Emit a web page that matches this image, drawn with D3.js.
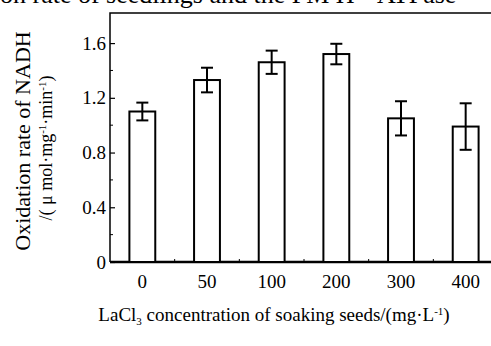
<!DOCTYPE html>
<html>
<head>
<meta charset="utf-8">
<script src="https://cdn.jsdelivr.net/npm/d3@7"></script>
<style>
  body { margin: 0; background: #fff; }
  text { font-family: "Liberation Serif", "DejaVu Serif", serif; fill: #000; }
</style>
</head>
<body>
<div id="chart"></div>
<script>
// data
const concentrations = ["0", "50", "100", "200", "300", "400"];
const rates = [1.10, 1.33, 1.46, 1.52, 1.05, 0.99];
const errors = [0.065, 0.09, 0.085, 0.075, 0.125, 0.17];
const yTicks = [0, 0.4, 0.8, 1.2, 1.6];
const yMinorTicks = [0.2, 0.6, 1.0, 1.4];

const W = 491, H = 346;
const plotLeft = 110, plotRight = 498, plotTop = 13, plotBottom = 262;

const svg = d3.select("#chart")
  .append("svg")
    .attr("width", W)
    .attr("height", H);

const x = d3.scaleBand()
  .domain(concentrations)
  .range([plotLeft, plotRight])
  .paddingInner(0.6)
  .paddingOuter(0.3);

const y = d3.scaleLinear()
  .domain([0, 1.82])
  .range([plotBottom, plotTop]);

// caption cut off at the top of the picture
svg.append("text")
  .attr("x", 0)
  .attr("y", 3)
  .style("font-size", "26px")
  .text("on rate of seedlings and the PM H\u207A-ATPase");

// frame
svg.append("path")
  .attr("d", `M${plotLeft},${plotBottom}V${plotTop}H${plotRight + 5}`)
  .attr("fill", "none")
  .attr("stroke", "#000")
  .attr("stroke-width", 1.5);

// x axis
const xAxis = svg.append("g")
  .attr("transform", `translate(0, ${plotBottom})`)
  .call(d3.axisBottom(x).tickSize(0).tickPadding(13));
xAxis.select(".domain").attr("stroke-width", 2.4).attr("d", `M${plotLeft},0H${plotRight + 5}`);
xAxis.selectAll("text").style("font-size", "19px").attr("font-family", null);

// small ticks between the bars
const step = x.step();
svg.selectAll(".xminor")
  .data(concentrations.slice(1))
  .enter()
  .append("line")
    .attr("x1", d => x(d) + x.bandwidth() / 2 - step / 2)
    .attr("x2", d => x(d) + x.bandwidth() / 2 - step / 2)
    .attr("y1", plotBottom)
    .attr("y2", plotBottom - 3)
    .attr("stroke", "#000")
    .attr("stroke-width", 1);

// y axis
const yAxis = svg.append("g")
  .attr("transform", `translate(${plotLeft}, 0)`)
  .call(d3.axisLeft(y).tickValues(yTicks).tickSize(-5).tickPadding(4)
    .tickFormat(d => d === 0 ? "0" : d3.format(".1f")(d)));
yAxis.select(".domain").remove();
yAxis.selectAll("text").style("font-size", "19px").attr("font-family", null);
yAxis.selectAll("line").attr("stroke-width", 1.2);

svg.selectAll(".yminor")
  .data(yMinorTicks)
  .enter()
  .append("line")
    .attr("x1", plotLeft)
    .attr("x2", plotLeft + 3)
    .attr("y1", d => y(d))
    .attr("y2", d => y(d))
    .attr("stroke", "#000")
    .attr("stroke-width", 1);

// bars
svg.selectAll(".bar")
  .data(rates)
  .enter()
  .append("rect")
    .attr("x", (d, i) => x(concentrations[i]))
    .attr("y", d => y(d))
    .attr("width", x.bandwidth())
    .attr("height", d => plotBottom - y(d))
    .attr("fill", "#fff")
    .attr("stroke", "#000")
    .attr("stroke-width", 2);

// error bars
const cap = 6;
const eb = svg.selectAll(".err")
  .data(rates)
  .enter()
  .append("g");
eb.append("line")
  .attr("x1", (d, i) => x(concentrations[i]) + x.bandwidth() / 2)
  .attr("x2", (d, i) => x(concentrations[i]) + x.bandwidth() / 2)
  .attr("y1", (d, i) => y(d + errors[i]))
  .attr("y2", (d, i) => y(d - errors[i]));
eb.append("line")
  .attr("x1", (d, i) => x(concentrations[i]) + x.bandwidth() / 2 - cap)
  .attr("x2", (d, i) => x(concentrations[i]) + x.bandwidth() / 2 + cap)
  .attr("y1", (d, i) => y(d + errors[i]))
  .attr("y2", (d, i) => y(d + errors[i]));
eb.append("line")
  .attr("x1", (d, i) => x(concentrations[i]) + x.bandwidth() / 2 - cap)
  .attr("x2", (d, i) => x(concentrations[i]) + x.bandwidth() / 2 + cap)
  .attr("y1", (d, i) => y(d - errors[i]))
  .attr("y2", (d, i) => y(d - errors[i]));
eb.selectAll("line").attr("stroke", "#000").attr("stroke-width", 2);

// axis titles
const yTitle = svg.append("text")
  .attr("transform", "translate(30, 141) rotate(-90)")
  .attr("text-anchor", "middle")
  .style("font-size", "22px");
yTitle.text("Oxidation rate of NADH");

const yUnit = svg.append("text")
  .attr("transform", "translate(52, 148) rotate(-90)")
  .attr("text-anchor", "middle")
  .style("font-size", "18px");
yUnit.append("tspan").text("/( \u03BC mol\u00B7mg");
yUnit.append("tspan").attr("dy", -6).style("font-size", "11px").text("-1");
yUnit.append("tspan").attr("dy", 6).text("\u00B7min");
yUnit.append("tspan").attr("dy", -6).style("font-size", "11px").text("-1");
yUnit.append("tspan").attr("dy", 6).text(")");

const xTitle = svg.append("text")
  .attr("x", 274)
  .attr("y", 321)
  .attr("text-anchor", "middle")
  .style("font-size", "19px");
xTitle.append("tspan").text("LaCl");
xTitle.append("tspan").attr("dy", 4).style("font-size", "11px").text("3");
xTitle.append("tspan").attr("dy", -4).text(" concentration of soaking seeds/(mg\u00B7L");
xTitle.append("tspan").attr("dy", -6).style("font-size", "11px").text("-1");
xTitle.append("tspan").attr("dy", 6).text(")");
</script>
</body>
</html>
